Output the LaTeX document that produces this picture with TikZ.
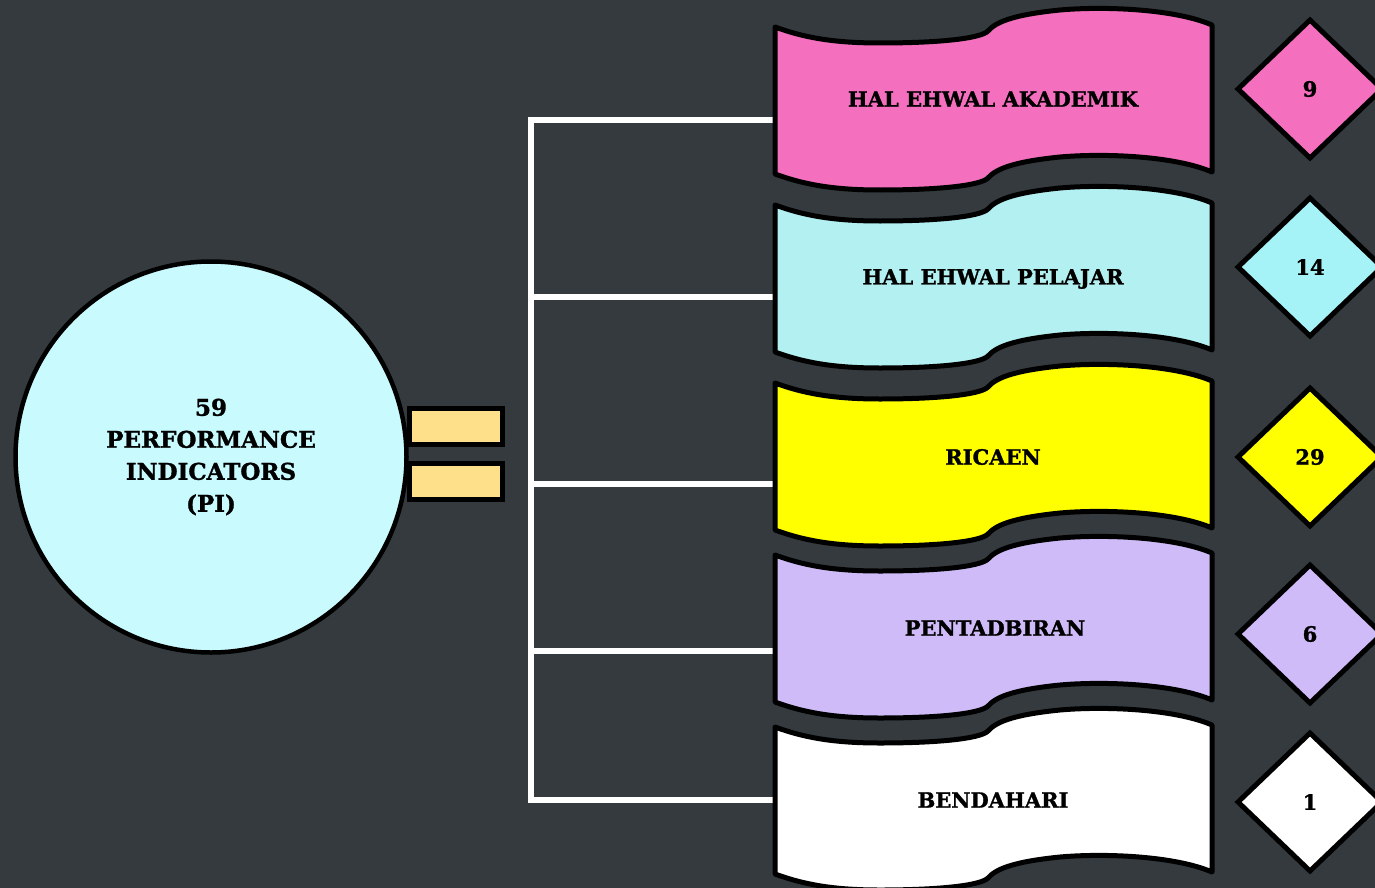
\documentclass[tikz,border=0pt]{standalone}
\usepackage{fontspec}
\setmainfont{DejaVu Serif}[BoldFeatures={FakeBold=1.3}]
\usetikzlibrary{shapes.geometric}
\definecolor{bg}{RGB}{52,58,62}
\definecolor{pinkc}{RGB}{244,111,190}
\definecolor{cyanb}{RGB}{179,240,241}
\definecolor{cyand}{RGB}{165,242,247}
\definecolor{yellowc}{RGB}{255,255,0}
\definecolor{lavc}{RGB}{207,187,248}
\definecolor{circc}{RGB}{200,250,254}
\definecolor{barc}{RGB}{255,224,138}
\newcommand\bannershape[2]{%
  \begin{scope}[shift={(775,#1)}]
    \draw[bannerline, fill=#2] (0,0) .. controls (30,11) and (60,16) .. (105,16)
      .. controls (160,16) and (205,12) .. (213,4)
      .. controls (220,-4) and (235,-12) .. (285,-17)
      .. controls (330,-21) and (400,-18) .. (437,-2) -- (437,145)
      .. controls (400,129) and (330,126) .. (285,130)
      .. controls (235,135) and (220,143) .. (213,151)
      .. controls (205,159) and (160,163) .. (105,163)
      .. controls (60,163) and (30,158) .. (0,147) -- cycle;
  \end{scope}}
\tikzset{
  bannerline/.style={line width=5pt, line join=round, draw=black},
  wire/.style={draw=white, line width=5.5pt},
  lbl/.style={font=\fontsize{21}{25}\selectfont\bfseries, text=black},
  dia/.style={diamond, draw=black, line width=5pt, inner sep=0pt, minimum width=146pt, minimum height=140pt, font=\fontsize{21}{24}\selectfont\bfseries},
  eqbar/.style={rectangle, draw=black, fill=barc, line width=5pt, minimum width=93pt, minimum height=36pt, inner sep=0pt},
}
\begin{document}
\begin{tikzpicture}[x=1pt,y=-1pt]
\useasboundingbox (0,0) rectangle (1375,888);
\fill[bg] (0,0) rectangle (1375,888);

% trunk coordinates
\coordinate (t1) at (531,120);
\coordinate (t2) at (531,297);
\coordinate (t3) at (531,484);
\coordinate (t4) at (531,651);
\coordinate (t5) at (531,800);
\coordinate (b1w) at (778,120);
\coordinate (b2w) at (778,297);
\coordinate (b3w) at (778,484);
\coordinate (b4w) at (778,651);
\coordinate (b5w) at (778,800);

\draw[wire, line join=miter] (b1w) -- (t1) -- (t5) -- (b5w);
\draw[wire] (t2) -- (b2w);
\draw[wire] (t3) -- (b3w);
\draw[wire] (t4) -- (b4w);

% banners
\bannershape{27}{pinkc}
\bannershape{205}{cyanb}
\bannershape{383}{yellowc}
\bannershape{555}{lavc}
\bannershape{727}{white}

\node[lbl] (n1) at (993,99) {HAL EHWAL AKADEMIK};
\node[lbl] (n2) at (993,279) {HAL EHWAL PELAJAR};
\node[lbl] (n3) at (993,457) {RICAEN};
\node[lbl] (n4) at (995,628) {PENTADBIRAN};
\node[lbl] (n5) at (993,800) {BENDAHARI};

% diamonds
\node[dia, fill=pinkc] (d1) at (1310,89) {9};
\node[dia, fill=cyand] (d2) at (1310,267) {14};
\node[dia, fill=yellowc] (d3) at (1310,457) {29};
\node[dia, fill=lavc] (d4) at (1310,634) {6};
\node[dia, fill=white] (d5) at (1310,802) {1};

% circle
\node[circle, draw=black, fill=circc, line width=4.5pt, minimum size=391pt, inner sep=0pt,
      align=center, font=\fontsize{23}{32}\selectfont\bfseries] (pi) at (211,457)
      {59\\PERFORMANCE\\INDICATORS\\(PI)};

% equals sign
\node[eqbar] (e1) at (456,426.5) {};
\node[eqbar] (e2) at (456,481.5) {};
\end{tikzpicture}
\end{document}
